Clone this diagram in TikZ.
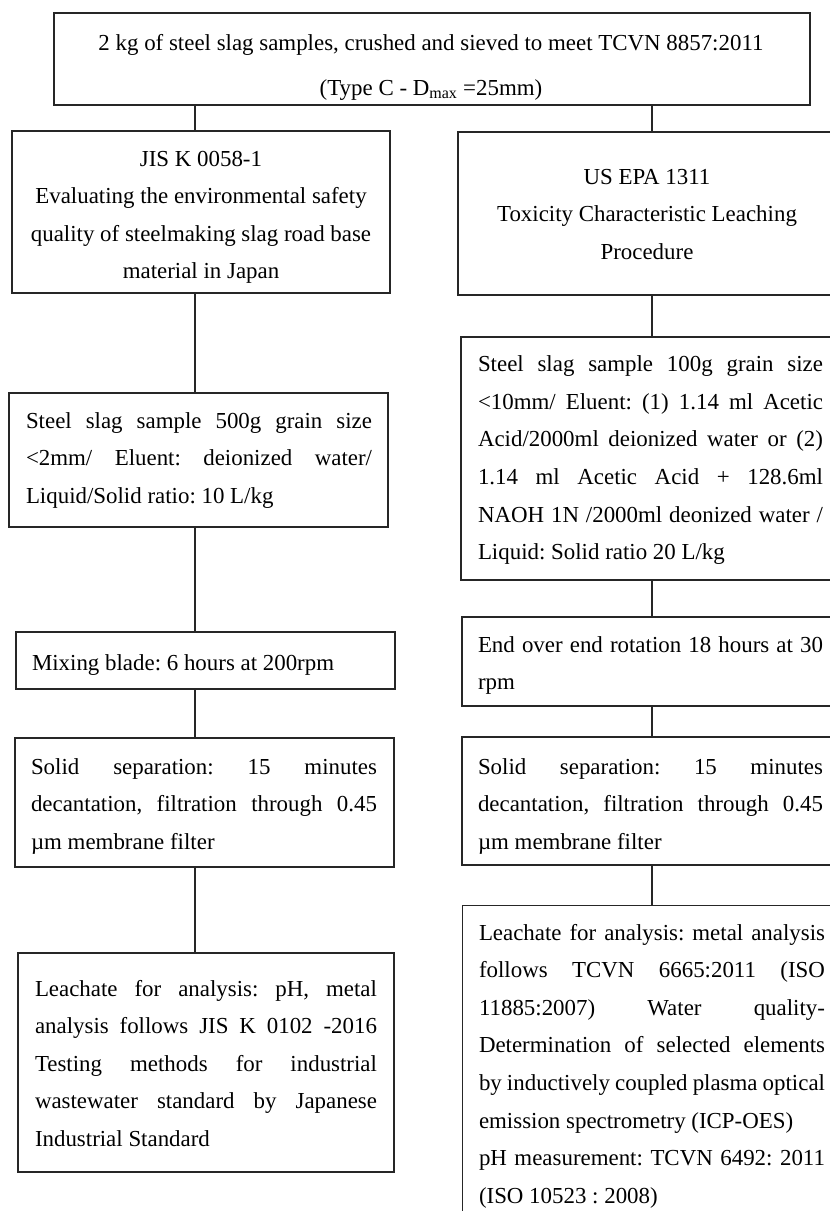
\documentclass[tikz,border=0pt]{standalone}
\usepackage{fontspec}
\setmainfont{Liberation Serif}
\setlength\parindent{0pt}
\frenchspacing
\newlength\jlw
\newcommand\ns{\spaceskip=0pt\xspaceskip=0pt\relax}
\newcommand\rs{\spaceskip=\fontdimen2\font\xspaceskip=\fontdimen2\font\relax}
\newcommand\jl[1]{\leavevmode\hbox to \jlw{\ns#1}}
\tikzset{
  frame/.style={draw=black!85, line width=1.2pt, rectangle, inner sep=0pt},
  txtstyle/.style={rectangle, inner sep=0pt, anchor=base,
    font=\fontsize{22.9pt}{37.6pt}\selectfont\frenchspacing},
  tw/.style={text width=#1pt, execute at begin node={\setlength\jlw{#1pt}}},
  link/.style={draw=black!85, line width=1.2pt},
}
\begin{document}
\begin{tikzpicture}[x=1pt,y=-1pt]
\fill[white] (0,0) rectangle (830,1211);
\useasboundingbox (0,0) rectangle (830,1211);
\coordinate (cL) at (195,0);
\coordinate (cR) at (652,0);

% frames
\node[frame, minimum width=756, minimum height=92] (top) at (432,59) {};
\node[frame, minimum width=378, minimum height=162] (jis) at (201,212) {};
\node[frame, minimum width=380, minimum height=163] (epa) at (648,213.5) {};
\node[frame, minimum width=379, minimum height=134] (l2) at (198.5,460) {};
\node[frame, minimum width=379, minimum height=243] (r2) at (650.5,458.5) {};
\node[frame, minimum width=379, minimum height=57] (l3) at (205.5,660.5) {};
\node[frame, minimum width=378, minimum height=89] (r3) at (651,661.5) {};
\node[frame, minimum width=379, minimum height=129] (l4) at (204.5,802.5) {};
\node[frame, minimum width=378, minimum height=128] (r4) at (651,801) {};
\node[frame, minimum width=376, minimum height=219] (l5) at (206,1062.5) {};
\node[frame, minimum width=380, minimum height=340, anchor=north west] (r5) at (462,905) {};

% texts
\node[txtstyle, tw=720, align=center] (toptxt) at (431,50.5)
  {\rs 2 kg of steel slag samples, crushed and sieved to meet TCVN 8857:2011\\[6.9pt]
   (Type C - D\textsubscript{max} =25mm)};

\node[txtstyle, tw=370, align=center] (jistxt) at (201,166)
  {\rs JIS K 0058-1\\ Evaluating the environmental safety\\ quality of steelmaking slag road base\\ material in Japan};

\node[txtstyle, tw=370, align=center] (epatxt) at (647,184)
  {\rs US EPA 1311\\ Toxicity Characteristic Leaching\\ Procedure};

\node[txtstyle, tw=346, align=left] (l2txt) at (199,428)
  {\ns\jl{Steel slag sample 500g grain size}\\
   \jl{<2mm/ Eluent: deionized water/}\\
   Liquid/Solid ratio: 10 L/kg};

\node[txtstyle, tw=345, align=left] (r2txt) at (650.5,371.7)
  {\ns\jl{Steel slag sample 100g grain size}\\
   \jl{<10mm/ Eluent: (1) 1.14 ml Acetic}\\
   \jl{Acid/2000ml deionized water or (2)}\\
   \jl{1.14 ml Acetic Acid + 128.6ml}\\
   \jl{NAOH 1N /2000ml deonized water /}\\
   Liquid: Solid ratio 20 L/kg};

\node[txtstyle, tw=346, align=left] (l3txt) at (205,670.7)
  {\ns Mixing blade: 6 hours at 200rpm};

\node[txtstyle, tw=345, align=left] (r3txt) at (650.5,652.3)
  {\ns\jl{End over end rotation 18 hours at 30}\\
   rpm};

\node[txtstyle, tw=346, align=left] (l4txt) at (204,774)
  {\ns\jl{Solid separation: 15 minutes}\\
   \jl{decantation, filtration through 0.45}\\
   µm membrane filter};

\node[txtstyle, tw=345, align=left] (r4txt) at (650.5,774)
  {\ns\jl{Solid separation: 15 minutes}\\
   \jl{decantation, filtration through 0.45}\\
   µm membrane filter};

\node[txtstyle, tw=342, align=left] (l5txt) at (206,996)
  {\ns\jl{Leachate for analysis: pH, metal}\\
   \jl{analysis follows JIS K 0102 -2016}\\
   \jl{Testing methods for industrial}\\
   \jl{wastewater standard by Japanese}\\
   Industrial Standard};

\node[txtstyle, tw=346, align=left] (r5txt) at (652,940)
  {\ns\jl{Leachate for analysis: metal analysis}\\
   \jl{follows TCVN 6665:2011 (ISO}\\
   \jl{11885:2007) Water quality-}\\
   \jl{Determination of selected elements}\\
   \jl{by inductively coupled plasma optical}\\
   emission spectrometry (ICP-OES)\\
   \jl{pH measurement: TCVN 6492: 2011}\\
   (ISO 10523 : 2008)};

% connectors
\draw[link] (top.south -| cL) -- (jis.north -| cL);
\draw[link] (jis.south -| cL) -- (l2.north -| cL);
\draw[link] (l2.south -| cL) -- (l3.north -| cL);
\draw[link] (l3.south -| cL) -- (l4.north -| cL);
\draw[link] (l4.south -| cL) -- (l5.north -| cL);

\draw[link] (top.south -| cR) -- (epa.north -| cR);
\draw[link] (epa.south -| cR) -- (r2.north -| cR);
\draw[link] (r2.south -| cR) -- (r3.north -| cR);
\draw[link] (r3.south -| cR) -- (r4.north -| cR);
\draw[link] (r4.south -| cR) -- (r5.north -| cR);
\end{tikzpicture}
\end{document}
